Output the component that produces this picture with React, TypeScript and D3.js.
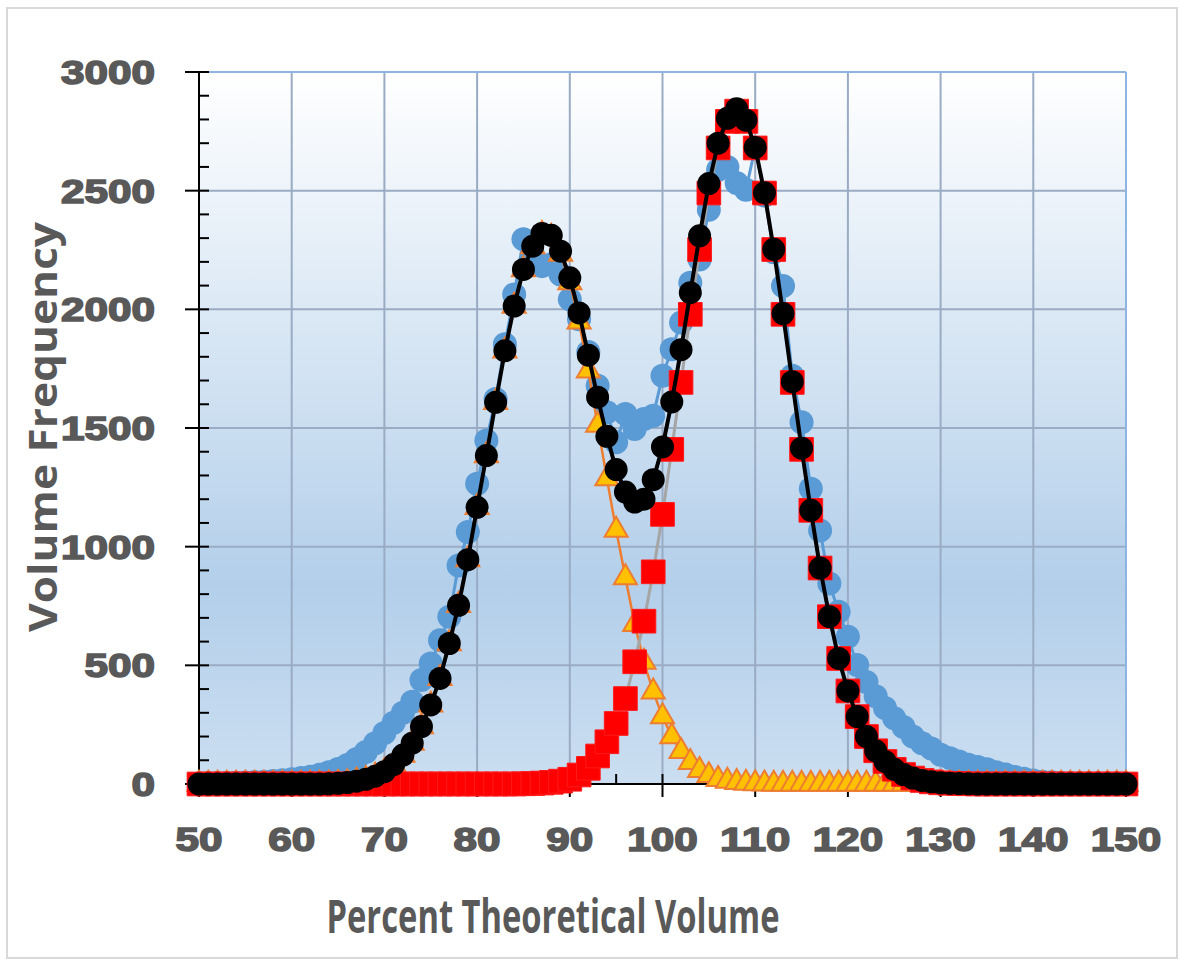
import React from 'react';
import * as d3 from 'd3';

// percent theoretical volume, 50..150 step 1
const xValues = d3.range(50, 151);

// measured volume frequency (blue circles)
const measured = [
  0, 2, 3, 4, 5, 6, 8, 10, 13, 16,
  20, 25, 31, 39, 50, 63, 80, 105, 135, 172,
  215, 258, 300, 347, 438, 508, 606, 705, 921, 1062,
  1265, 1447, 1622, 1853, 2063, 2295, 2231, 2182, 2190, 2147,
  2042, 1958, 1820, 1678, 1566, 1440, 1559, 1496, 1538, 1552,
  1720, 1832, 1944, 2112, 2210, 2420, 2588, 2600, 2532, 2504,
  2680, 2480, 2240, 2098, 1720, 1524, 1244, 1068, 845, 726,
  620, 501, 430, 370, 320, 277, 240, 200, 172, 150,
  123, 109, 95, 81, 72, 62, 50, 40, 30, 22,
  15, 10, 7, 4, 3, 2, 1, 0, 0, 0,
  0,
];

// first fitted component (orange triangles)
const peak1 = [
  0, 0, 0, 0, 0, 0, 0, 0, 0, 0,
  0, 0, 0, 0, 1, 3, 6, 12, 20, 33,
  52, 82, 122, 172, 242, 333, 445, 592, 753, 945,
  1166, 1384, 1608, 1825, 2014, 2167, 2264, 2316, 2305, 2233,
  2113, 1947, 1741, 1512, 1287, 1070, 870, 673, 514, 388,
  284, 200, 138, 91, 58, 36, 20, 12, 7, 4,
  2, 1, 0, 0, 0, 0, 0, 0, 0, 0,
  0, 0, 0, 0, 0, 0, 0, 0, 0, 0,
  0, 0, 0, 0, 0, 0, 0, 0, 0, 0,
  0, 0, 0, 0, 0, 0, 0, 0, 0, 0,
  0,
];

// second fitted component (red squares)
const peak2 = [
  0, 0, 0, 0, 0, 0, 0, 0, 0, 0,
  0, 0, 0, 0, 0, 0, 0, 0, 0, 0,
  0, 0, 0, 0, 0, 0, 0, 0, 0, 0,
  0, 0, 0, 0, 0, 1, 2, 4, 7, 12,
  20, 38, 66, 118, 178, 255, 360, 515, 686, 894,
  1136, 1410, 1692, 1979, 2252, 2490, 2680, 2792, 2835, 2792,
  2680, 2490, 2252, 1979, 1692, 1410, 1153, 910, 705, 529,
  392, 284, 200, 140, 95, 62, 40, 25, 15, 9,
  5, 3, 2, 1, 0, 0, 0, 0, 0, 0,
  0, 0, 0, 0, 0, 0, 0, 0, 0, 0,
  0,
];

// fitted total (black circles)
const fitTotal = [
  0, 0, 0, 0, 0, 0, 0, 0, 0, 0,
  0, 0, 0, 0, 1, 3, 6, 12, 20, 33,
  52, 82, 122, 172, 242, 333, 445, 592, 753, 945,
  1166, 1384, 1608, 1825, 2014, 2168, 2266, 2320, 2312, 2245,
  2133, 1985, 1807, 1630, 1465, 1325, 1230, 1188, 1200, 1282,
  1420, 1610, 1830, 2070, 2310, 2530, 2700, 2805, 2845, 2797,
  2682, 2491, 2253, 1982, 1695, 1415, 1153, 910, 705, 529,
  392, 284, 200, 140, 95, 62, 40, 25, 15, 9,
  5, 3, 2, 1, 0, 0, 0, 0, 0, 0,
  0, 0, 0, 0, 0, 0, 0, 0, 0, 0,
  0,
];

const xTicks = [50, 60, 70, 80, 90, 100, 110, 120, 130, 140, 150];
const yTicks = [0, 500, 1000, 1500, 2000, 2500, 3000];

const W = 1181;
const H = 960;
const left = 199, right = 1126, top = 72, bottom = 784;
const labelColor = '#595959';

const App = () => {
  const x = d3.scaleLinear().domain([50, 150]).range([left, right]);
  const y = d3.scaleLinear().domain([0, 3000]).range([bottom, top]);

  const line = (vals: number[]) =>
    d3.line<number>().x((_, i) => x(xValues[i])).y((d) => y(d))(vals) || '';

  const tri = d3.symbol().type(d3.symbolTriangle).size(230)() || '';
  const sq = d3.symbol().type(d3.symbolSquare).size(560)() || '';

  const minorY = d3.range(0, 3001, 100).filter((v) => v % 500 !== 0);
  const minorX = d3.range(55, 150, 10);

  return (
    <svg width={W} height={H} style={{ position: 'absolute', left: 0, top: 0, background: '#fff' }}>
      <defs>
        <linearGradient id="bg" x1="0" y1="0" x2="0" y2="1">
          <stop offset="0" stopColor="#ffffff" />
          <stop offset="0.72" stopColor="#b3cfea" />
          <stop offset="1" stopColor="#cbdef1" />
        </linearGradient>
      </defs>
      <rect x={7} y={8} width={1170} height={950} fill="#fff" stroke="#d9d9d9" strokeWidth={2} />

      {/* plot area */}
      <rect x={left} y={top} width={right - left} height={bottom - top} fill="url(#bg)" />
      {yTicks.slice(1, -1).map((t) => (
        <line key={'gy' + t} x1={left} x2={right} y1={y(t)} y2={y(t)} stroke="#9aabc4" strokeWidth={2} />
      ))}
      {xTicks.slice(1, -1).map((t) => (
        <line key={'gx' + t} x1={x(t)} x2={x(t)} y1={top} y2={bottom} stroke="#9aabc4" strokeWidth={2} />
      ))}
      <line x1={left} x2={right} y1={top} y2={top} stroke="#8db4e3" strokeWidth={2} />
      <line x1={right} x2={right} y1={top} y2={bottom} stroke="#8db4e3" strokeWidth={2} />

      {/* y axis */}
      <line x1={left} x2={left} y1={top - 1} y2={bottom} stroke="#000" strokeWidth={2} />
      {yTicks.map((t) => (
        <line key={'yt' + t} x1={left - 14} x2={left + 10} y1={y(t)} y2={y(t)} stroke="#000" strokeWidth={2} />
      ))}
      {minorY.map((t) => (
        <line key={'ym' + t} x1={left} x2={left + 10} y1={y(t)} y2={y(t)} stroke="#000" strokeWidth={2} />
      ))}
      {yTicks.map((t) => (
        <text key={'yl' + t} x={155} y={y(t) + 12} textAnchor="end" fill={labelColor}
          stroke={labelColor} strokeWidth={1.6}
          fontFamily="Liberation Sans, Arial, sans-serif" fontWeight="bold" fontSize={34}
          textLength={String(t).length * 23.5} lengthAdjust="spacingAndGlyphs">
          {t}
        </text>
      ))}

      {/* x axis */}
      <line x1={left} x2={right} y1={bottom} y2={bottom} stroke="#000" strokeWidth={2} />
      {xTicks.map((t) => (
        <line key={'xt' + t} x1={x(t)} x2={x(t)} y1={bottom - 10} y2={bottom + 13} stroke="#000" strokeWidth={2} />
      ))}
      {minorX.map((t) => (
        <line key={'xm' + t} x1={x(t)} x2={x(t)} y1={bottom - 10} y2={bottom} stroke="#000" strokeWidth={2} />
      ))}
      {xTicks.map((t) => (
        <text key={'xl' + t} x={x(t)} y={851} textAnchor="middle" fill={labelColor}
          stroke={labelColor} strokeWidth={1.6}
          fontFamily="Liberation Sans, Arial, sans-serif" fontWeight="bold" fontSize={34}
          textLength={String(t).length * 23.5} lengthAdjust="spacingAndGlyphs">
          {t}
        </text>
      ))}

      {/* measured */}
      <path d={line(measured)} fill="none" stroke="#5b9bd5" strokeWidth={3} />
      {measured.map((v, i) => (
        <circle key={'m' + i} cx={x(xValues[i])} cy={y(v)} r={12} fill="#5b9bd5" />
      ))}

      {/* component 1 */}
      <path d={line(peak1)} fill="none" stroke="#ed7d31" strokeWidth={2.5} />
      {peak1.map((v, i) => (
        <path key={'p1' + i} d={tri} transform={`translate(${x(xValues[i])},${y(v)})`}
          fill="#ffc000" stroke="#ed7d31" strokeWidth={2} />
      ))}

      {/* component 2 */}
      <path d={line(peak2)} fill="none" stroke="#a5a5a5" strokeWidth={3} />
      {peak2.map((v, i) => (
        <path key={'p2' + i} d={sq} transform={`translate(${x(xValues[i])},${y(v)})`}
          fill="#ff0000" stroke="#ff1a1a" strokeWidth={1} />
      ))}

      {/* fitted total */}
      <path d={line(fitTotal)} fill="none" stroke="#000" strokeWidth={4} />
      {fitTotal.map((v, i) => (
        <circle key={'f' + i} cx={x(xValues[i])} cy={y(v)} r={11.5} fill="#000" />
      ))}

      {/* axis titles */}
      <text x={553} y={933} textAnchor="middle" fill={labelColor}
        fontFamily="Open Sans, sans-serif" fontWeight={700} fontSize={46}
        textLength={453} lengthAdjust="spacingAndGlyphs">
        Percent Theoretical Volume
      </text>
      <text transform="translate(57,427) rotate(-90)" textAnchor="middle" fill={labelColor}
        fontFamily="Open Sans, sans-serif" fontWeight={700} fontSize={40}
        textLength={410} lengthAdjust="spacingAndGlyphs">
        Volume Frequency
      </text>
    </svg>
  );
};

export default App;
